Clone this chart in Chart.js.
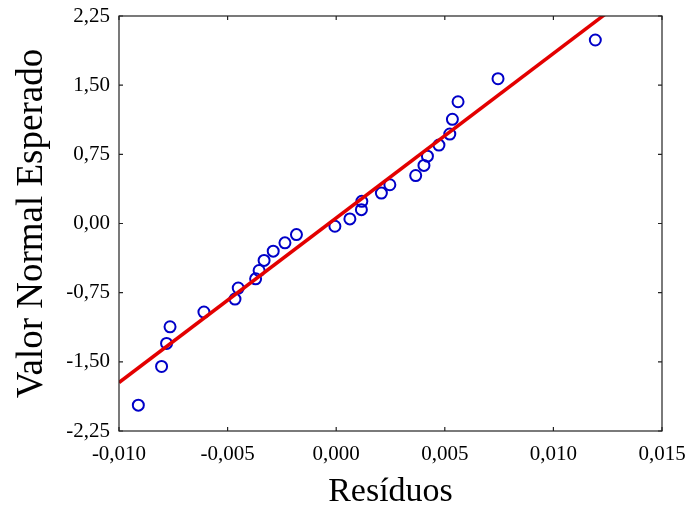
<!DOCTYPE html>
<html>
<head>
<meta charset="utf-8">
<script src="https://cdn.jsdelivr.net/npm/chart.js@4/dist/chart.umd.min.js"></script>
<style>
  html, body { margin: 0; padding: 0; background: #fff; }
  canvas { display: block; }
</style>
</head>
<body>
<canvas id="grafico" width="692" height="513"></canvas>
<script>
// Resíduos e valores normais esperados
const residuos = [-0.00911, -0.00804, -0.00781, -0.00765, -0.00609, -0.00466, -0.00451,
  -0.00371, -0.00355, -0.00332, -0.00290, -0.00236, -0.00183, -0.00006, 0.00063,
  0.00116, 0.00118, 0.00208, 0.00247, 0.00366, 0.00404, 0.00420, 0.00473, 0.00523,
  0.00535, 0.00561, 0.00745, 0.01193];
const valorNormal = [-1.97, -1.55, -1.30, -1.12, -0.96, -0.82, -0.70, -0.60, -0.51,
  -0.40, -0.30, -0.21, -0.12, -0.03, 0.05, 0.15, 0.24, 0.33, 0.42, 0.52, 0.63, 0.73,
  0.85, 0.97, 1.13, 1.32, 1.57, 1.99];

// Reta de referência (extremos)
const retaX = [-0.010, 0.015];
const retaY = [-1.724, 2.736];

// Marcas dos eixos
const ticksX = [-0.010, -0.005, 0.000, 0.005, 0.010, 0.015];
const ticksY = [-2.25, -1.50, -0.75, 0.00, 0.75, 1.50, 2.25];

const fonte = "'Liberation Serif', 'Times New Roman', serif";
const virgula = (v, d) => v.toFixed(d).replace('.', ',');

// moldura com marcas para dentro nos quatro lados
const moldura = {
  id: 'moldura',
  afterDraw(chart) {
    const { ctx, chartArea: a, scales } = chart;
    const len = 4;
    ctx.save();
    ctx.strokeStyle = '#222';
    ctx.lineWidth = 1.2;
    ctx.strokeRect(a.left, a.top, a.right - a.left, a.bottom - a.top);
    ctx.beginPath();
    scales.x.ticks.forEach(t => {
      const px = scales.x.getPixelForValue(t.value);
      ctx.moveTo(px, a.bottom); ctx.lineTo(px, a.bottom - len);
      ctx.moveTo(px, a.top); ctx.lineTo(px, a.top + len);
    });
    scales.y.ticks.forEach(t => {
      const py = scales.y.getPixelForValue(t.value);
      ctx.moveTo(a.left, py); ctx.lineTo(a.left + len, py);
      ctx.moveTo(a.right, py); ctx.lineTo(a.right - len, py);
    });
    ctx.stroke();
    ctx.restore();
  }
};

new Chart(document.getElementById('grafico'), {
  type: 'scatter',
  data: {
    datasets: [
      {
        type: 'line',
        data: retaX.map((x, i) => ({ x: x, y: retaY[i] })),
        borderColor: '#e30000',
        borderWidth: 3.5,
        pointRadius: 0,
        fill: false,
        order: 0
      },
      {
        data: residuos.map((x, i) => ({ x: x, y: valorNormal[i] })),
        borderColor: '#0000c8',
        backgroundColor: 'rgba(0,0,0,0)',
        pointRadius: 5.5,
        pointBorderWidth: 2,
        order: 1
      }
    ]
  },
  options: {
    responsive: false,
    animation: false,
    layout: { padding: { top: 16, right: 30, left: 0, bottom: 0 } },
    plugins: { legend: { display: false }, tooltip: { enabled: false } },
    scales: {
      x: {
        type: 'linear',
        min: -0.010,
        max: 0.015,
        afterBuildTicks: s => { s.ticks = ticksX.map(v => ({ value: v })); },
        afterFit: s => { s.height = 82; s.paddingLeft = 0; s.paddingRight = 0; },
        grid: { display: false, drawTicks: false },
        border: { display: false },
        ticks: {
          padding: 11,
          color: '#000',
          font: { family: fonte, size: 21 },
          callback: v => virgula(v, 3)
        },
        title: {
          display: true,
          text: 'Resíduos',
          color: '#000',
          font: { family: fonte, size: 34 },
          padding: { top: 0, bottom: 1 }
        }
      },
      y: {
        type: 'linear',
        min: -2.25,
        max: 2.25,
        afterBuildTicks: s => { s.ticks = ticksY.map(v => ({ value: v })); },
        afterFit: s => { s.width = 119; s.paddingTop = 0; s.paddingBottom = 0; },
        grid: { display: false, drawTicks: false },
        border: { display: false },
        ticks: {
          padding: 9,
          color: '#000',
          font: { family: fonte, size: 21 },
          callback: v => virgula(v, 2)
        },
        title: {
          display: true,
          text: 'Valor Normal Esperado',
          color: '#000',
          font: { family: fonte, size: 37 },
          padding: { top: 10, bottom: 0 }
        }
      }
    }
  },
  plugins: [moldura]
});
</script>
</body>
</html>
